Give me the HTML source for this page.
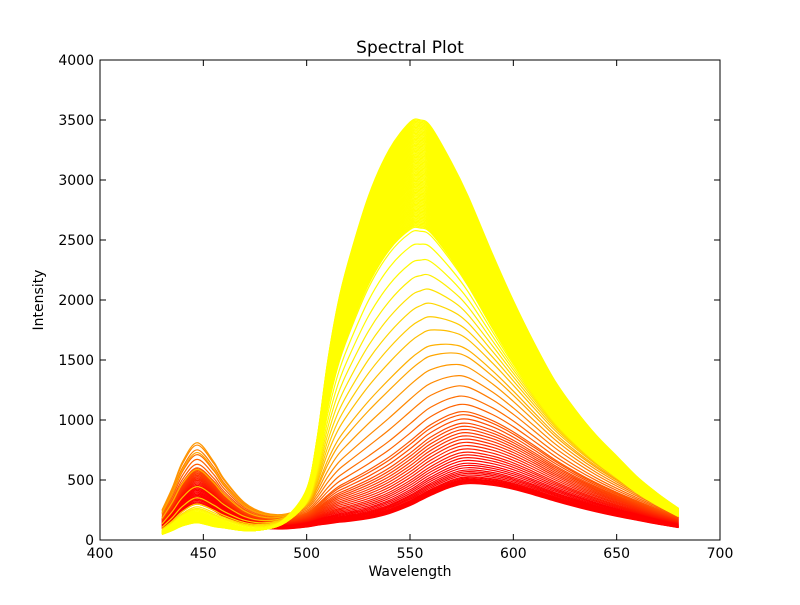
<!DOCTYPE html>
<html><head><meta charset="utf-8"><style>
body{margin:0;background:#fff}
svg text{font-family:"DejaVu Sans","Liberation Sans",sans-serif}
</style></head><body>
<svg id="chart" width="800" height="600" xmlns="http://www.w3.org/2000/svg">
<rect width="800" height="600" fill="#fff"/>
<g id="plot"></g>
<g id="axes"></g>
<text x="410" y="53" font-size="17" text-anchor="middle">Spectral Plot</text>
<text x="410" y="576" font-size="14" text-anchor="middle">Wavelength</text>
<text x="43" y="300" font-size="14" text-anchor="middle" transform="rotate(-90 43 300)">Intensity</text>
</svg>
<script>
const wavelengths=[430,435,440,447,455,460,470,480,490,500,505,510,515,520,530,540,550,555,560,570,578,590,600,610,620,630,640,650,660,670,680];
const blueProfile=[0.32,0.55,0.82,1,0.78,0.58,0.3,0.16,0.08,0.035,0.02,0.01,0.005,0,0,0,0,0,0,0,0,0,0,0,0,0,0,0,0,0,0];
const redProfile=[0,0.01,0.02,0.04,0.06,0.07,0.09,0.11,0.15,0.21,0.25,0.28,0.31,0.33,0.38,0.47,0.61,0.7,0.79,0.94,1,0.97,0.9,0.8,0.69,0.59,0.5,0.42,0.35,0.28,0.22];
const yellowProfile=[0,0,0,0,0,0.005,0.01,0.02,0.05,0.12,0.24,0.42,0.56,0.66,0.82,0.93,0.995,1,0.985,0.9,0.82,0.68,0.57,0.47,0.38,0.31,0.25,0.2,0.15,0.11,0.075];
const mainPeaks=[470,478,486,494,502,510,520,530,545,560,575,590,610,630,650,675,700,725,750,780,810,840,870,900,930,960,990,1020,1060,1100,
1130,1200,1280,1380,1480,1590,1700,1780,1900,2000,2100,2200,2300,2400,2500,2580,
2600,2610,2620,2630,2640,2650,2660,2670,2680,2690,
2700,2710,2720,2730,2740,2750,2760,2770,2780,2790,
2800,2810,2820,2830,2840,2850,2860,2870,2880,2890,
2900,2910,2920,2930,2940,2950,2960,2970,2980,2990,
3000,3010,3020,3030,3040,3050,3060,3070,3080,3090,
3100,3110,3120,3130,3140,3150,3160,3170,3180,3190,
3200,3210,3220,3230,3240,3250,3260,3270,3280,3290,
3300,3310,3320,3330,3340,3350,3360,3370,3380,3390,
3400,3410,3420,3430,3440,3450,3460,3470,3480,3490,3500];
const bluePeaks=[280,290,300,310,320,330,340,350,360,370,380,390,400,410,420,430,440,450,460,470,480,490,500,510,520,530,540,550,560,570,
600,640,680,720,760,780,700,560,420,330,280,260,250,245,240,235,
234,233,232,231,230,229,228,227,226,225,
224,223,222,221,220,219,218,217,216,215,
214,213,212,211,210,209,208,207,206,205,
204,203,202,201,200,199,198,197,196,195,
194,193,192,191,190,189,188,187,186,185,
184,183,182,181,180,179,178,177,176,175,
174,173,172,171,170,169,168,167,166,165,
164,163,162,161,160,159,158,157,156,155,
154,153,152,151,150,149,148,147,146,145,144];
const xTicks=[400,450,500,550,600,650,700];
const yTicks=[0,500,1000,1500,2000,2500,3000,3500,4000];
const L=100,R=720,T=60,B=540;
const xs=v=>L+(v-400)/300*(R-L);
const ys=v=>B-v/4000*(B-T);
const NS='http://www.w3.org/2000/svg';
const plot=document.getElementById('plot');
const axes=document.getElementById('axes');
function pathFrom(pts){
  let d='M'+pts[0][0].toFixed(2)+','+pts[0][1].toFixed(2);
  for(let i=0;i<pts.length-1;i++){
    const p0=pts[Math.max(0,i-1)],p1=pts[i],p2=pts[i+1],p3=pts[Math.min(pts.length-1,i+2)];
    const c1=[p1[0]+(p2[0]-p0[0])/6,p1[1]+(p2[1]-p0[1])/6];
    const c2=[p2[0]-(p3[0]-p1[0])/6,p2[1]-(p3[1]-p1[1])/6];
    d+='C'+c1[0].toFixed(2)+','+c1[1].toFixed(2)+' '+c2[0].toFixed(2)+','+c2[1].toFixed(2)+' '+p2[0].toFixed(2)+','+p2[1].toFixed(2);
  }
  return d;
}
const N=mainPeaks.length;
for(let i=0;i<N;i++){
  const w=Math.max(0,Math.min(1,(mainPeaks[i]-470)/(2600-470)));
  const c=Math.pow(Math.max(0,Math.min(1,(mainPeaks[i]-650)/1800)),0.8);
  const pts=wavelengths.map((wl,k)=>{
    const v=bluePeaks[i]*blueProfile[k]+mainPeaks[i]*((1-w)*redProfile[k]+w*yellowProfile[k]);
    return [xs(wl),ys(v)];
  });
  const p=document.createElementNS(NS,'path');
  p.setAttribute('d',pathFrom(pts));
  p.setAttribute('fill','none');
  p.setAttribute('stroke','rgb(255,'+Math.round(255*c)+',0)');
  p.setAttribute('stroke-width','1.2');
  
  
  plot.appendChild(p);
}
function add(tag,attrs,parent,text){
  const e=document.createElementNS(NS,tag);
  for(const k in attrs)e.setAttribute(k,attrs[k]);
  if(text!==undefined)e.textContent=text;
  parent.appendChild(e);return e;
}
const frame=add('rect',{x:L,y:T,width:R-L,height:B-T,fill:'none',stroke:'#000','stroke-width':1},axes);


xTicks.forEach(v=>{
  const x=xs(v);
  const t1=add('line',{x1:x,y1:B,x2:x,y2:B-6,stroke:'#000'},axes);
  
  
  const t2=add('line',{x1:x,y1:T,x2:x,y2:T+6,stroke:'#000'},axes);
  
  
  const lb=add('text',{x:x,y:B+18,'font-size':14,'text-anchor':'middle'},axes,String(v));
  
  
});
yTicks.forEach(v=>{
  const y=ys(v);
  const t1=add('line',{x1:L,y1:y,x2:L+6,y2:y,stroke:'#000'},axes);
  
  
  const t2=add('line',{x1:R,y1:y,x2:R-6,y2:y,stroke:'#000'},axes);
  
  
  const lb=add('text',{x:L-6,y:y+5,'font-size':14,'text-anchor':'end'},axes,String(v));
  
  
});
</script>
</body></html>
